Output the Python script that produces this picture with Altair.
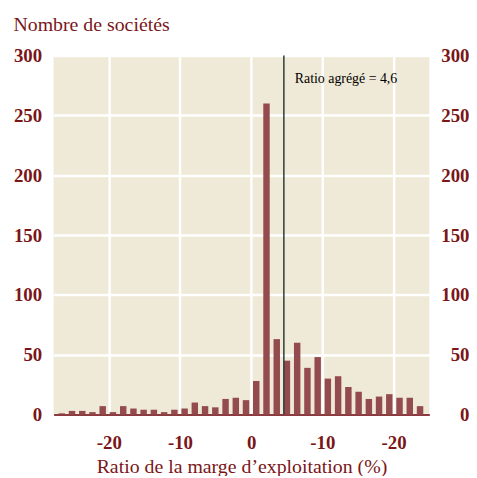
import altair as alt
import pandas as pd

# Bin centres (%) and number of companies per bin
centres = [-26.60, -25.16, -23.72, -22.29, -20.85, -19.41, -17.97, -16.53, -15.10,
           -13.66, -12.22, -10.78, -9.34, -7.91, -6.47, -5.03, -3.59, -2.15, -0.72,
           0.72, 2.16, 3.60, 5.03, 6.47, 7.91, 9.35, 10.78, 12.22, 13.66, 15.10,
           16.54, 17.97, 19.41, 20.85, 22.29, 23.73]
societes = [1, 3, 3, 2, 7, 2, 7, 5, 4, 4, 2, 4, 5, 10, 7, 6, 13, 14, 12,
            28, 260, 63, 45, 60, 39, 48, 30, 32, 23, 19, 13, 15, 17, 14, 14, 7]
x_ticks = [-20, -10, 0, 10, 20]
y_ticks = [0, 50, 100, 150, 200, 250, 300]
ratio_agrege = [4.6]
annotation = ["Ratio agrégé = 4,6"]
annotation_y = [280]

df = pd.DataFrame({"centre": centres, "societes": societes})
rule_df = pd.DataFrame({"centre": ratio_agrege})
text_df = pd.DataFrame({"centre": ratio_agrege, "societes": annotation_y, "label": annotation})

FONT = "Liberation Serif"
TXT = "#7A1618"
BAR = "#944B4E"
BG = "#EFE9D7"

xscale = alt.Scale(domain=[-27.05, 24.34], nice=False, zero=False)
yscale = alt.Scale(domain=[0, 300], nice=False, zero=True)

x_axis = alt.Axis(
    values=x_ticks,
    labelExpr="datum.value == 0 ? '0' : '-' + abs(datum.value)",
    title="Ratio de la marge d\u2019exploitation (%)",
    grid=True, gridColor="white", gridWidth=2.5,
    ticks=False, tickSize=0,
    domainColor="#8B3A3E", domainWidth=2,
    labelFont=FONT, labelFontSize=19, labelFontWeight="bold", labelColor=TXT,
    labelBaseline="alphabetic", labelPadding=34,
    titleFont=FONT, titleFontSize=20, titleFontWeight="normal", titleColor=TXT,
    titleBaseline="alphabetic", titleY=58,
)

def y_axis(orient, pad, grid):
    return alt.Axis(
        orient=orient, values=y_ticks, title=None,
        grid=grid, gridColor="white", gridWidth=2.5,
        ticks=False, tickSize=0, domain=False,
        labelFont=FONT, labelFontSize=19, labelFontWeight="bold", labelColor=TXT,
        labelAlign="right", labelPadding=pad, labelFlush=False,
    )

X = alt.X("centre:Q", scale=xscale, axis=x_axis)

bars = alt.Chart(df).mark_bar(size=6.5, color=BAR).encode(
    x=X,
    y=alt.Y("societes:Q", scale=yscale, axis=y_axis("left", 12, True)),
)

bars_right = alt.Chart(df).mark_bar(size=6.5, color=BAR, opacity=0).encode(
    x=X,
    y=alt.Y("societes:Q", scale=yscale, axis=y_axis("right", 40, False)),
)

rule = alt.Chart(rule_df).mark_rule(color="#2B3D38", strokeWidth=1.5).encode(
    x=X,
)

text = alt.Chart(text_df).mark_text(
    align="left", baseline="middle", dx=11, dy=-1, font=FONT, fontSize=14, color="black"
).encode(
    x=X,
    y=alt.Y("societes:Q", scale=yscale, axis=None),
    text="label:N",
)

chart = alt.layer(bars, bars_right, rule, text).resolve_axis(
    y="independent"
).properties(
    width=379,
    height=362,
    title=alt.TitleParams(
        "Nombre de sociétés", anchor="start", font=FONT, fontSize=20,
        fontWeight="normal", color=TXT, offset=12,
    ),
    autosize=alt.AutoSizeParams(type="none"),
    padding={"left": 46, "top": 46, "right": 40, "bottom": 60},
).configure_view(
    fill=BG, stroke=None
)

chart.save("out.html", embed_options={"renderer": "svg", "actions": False})
